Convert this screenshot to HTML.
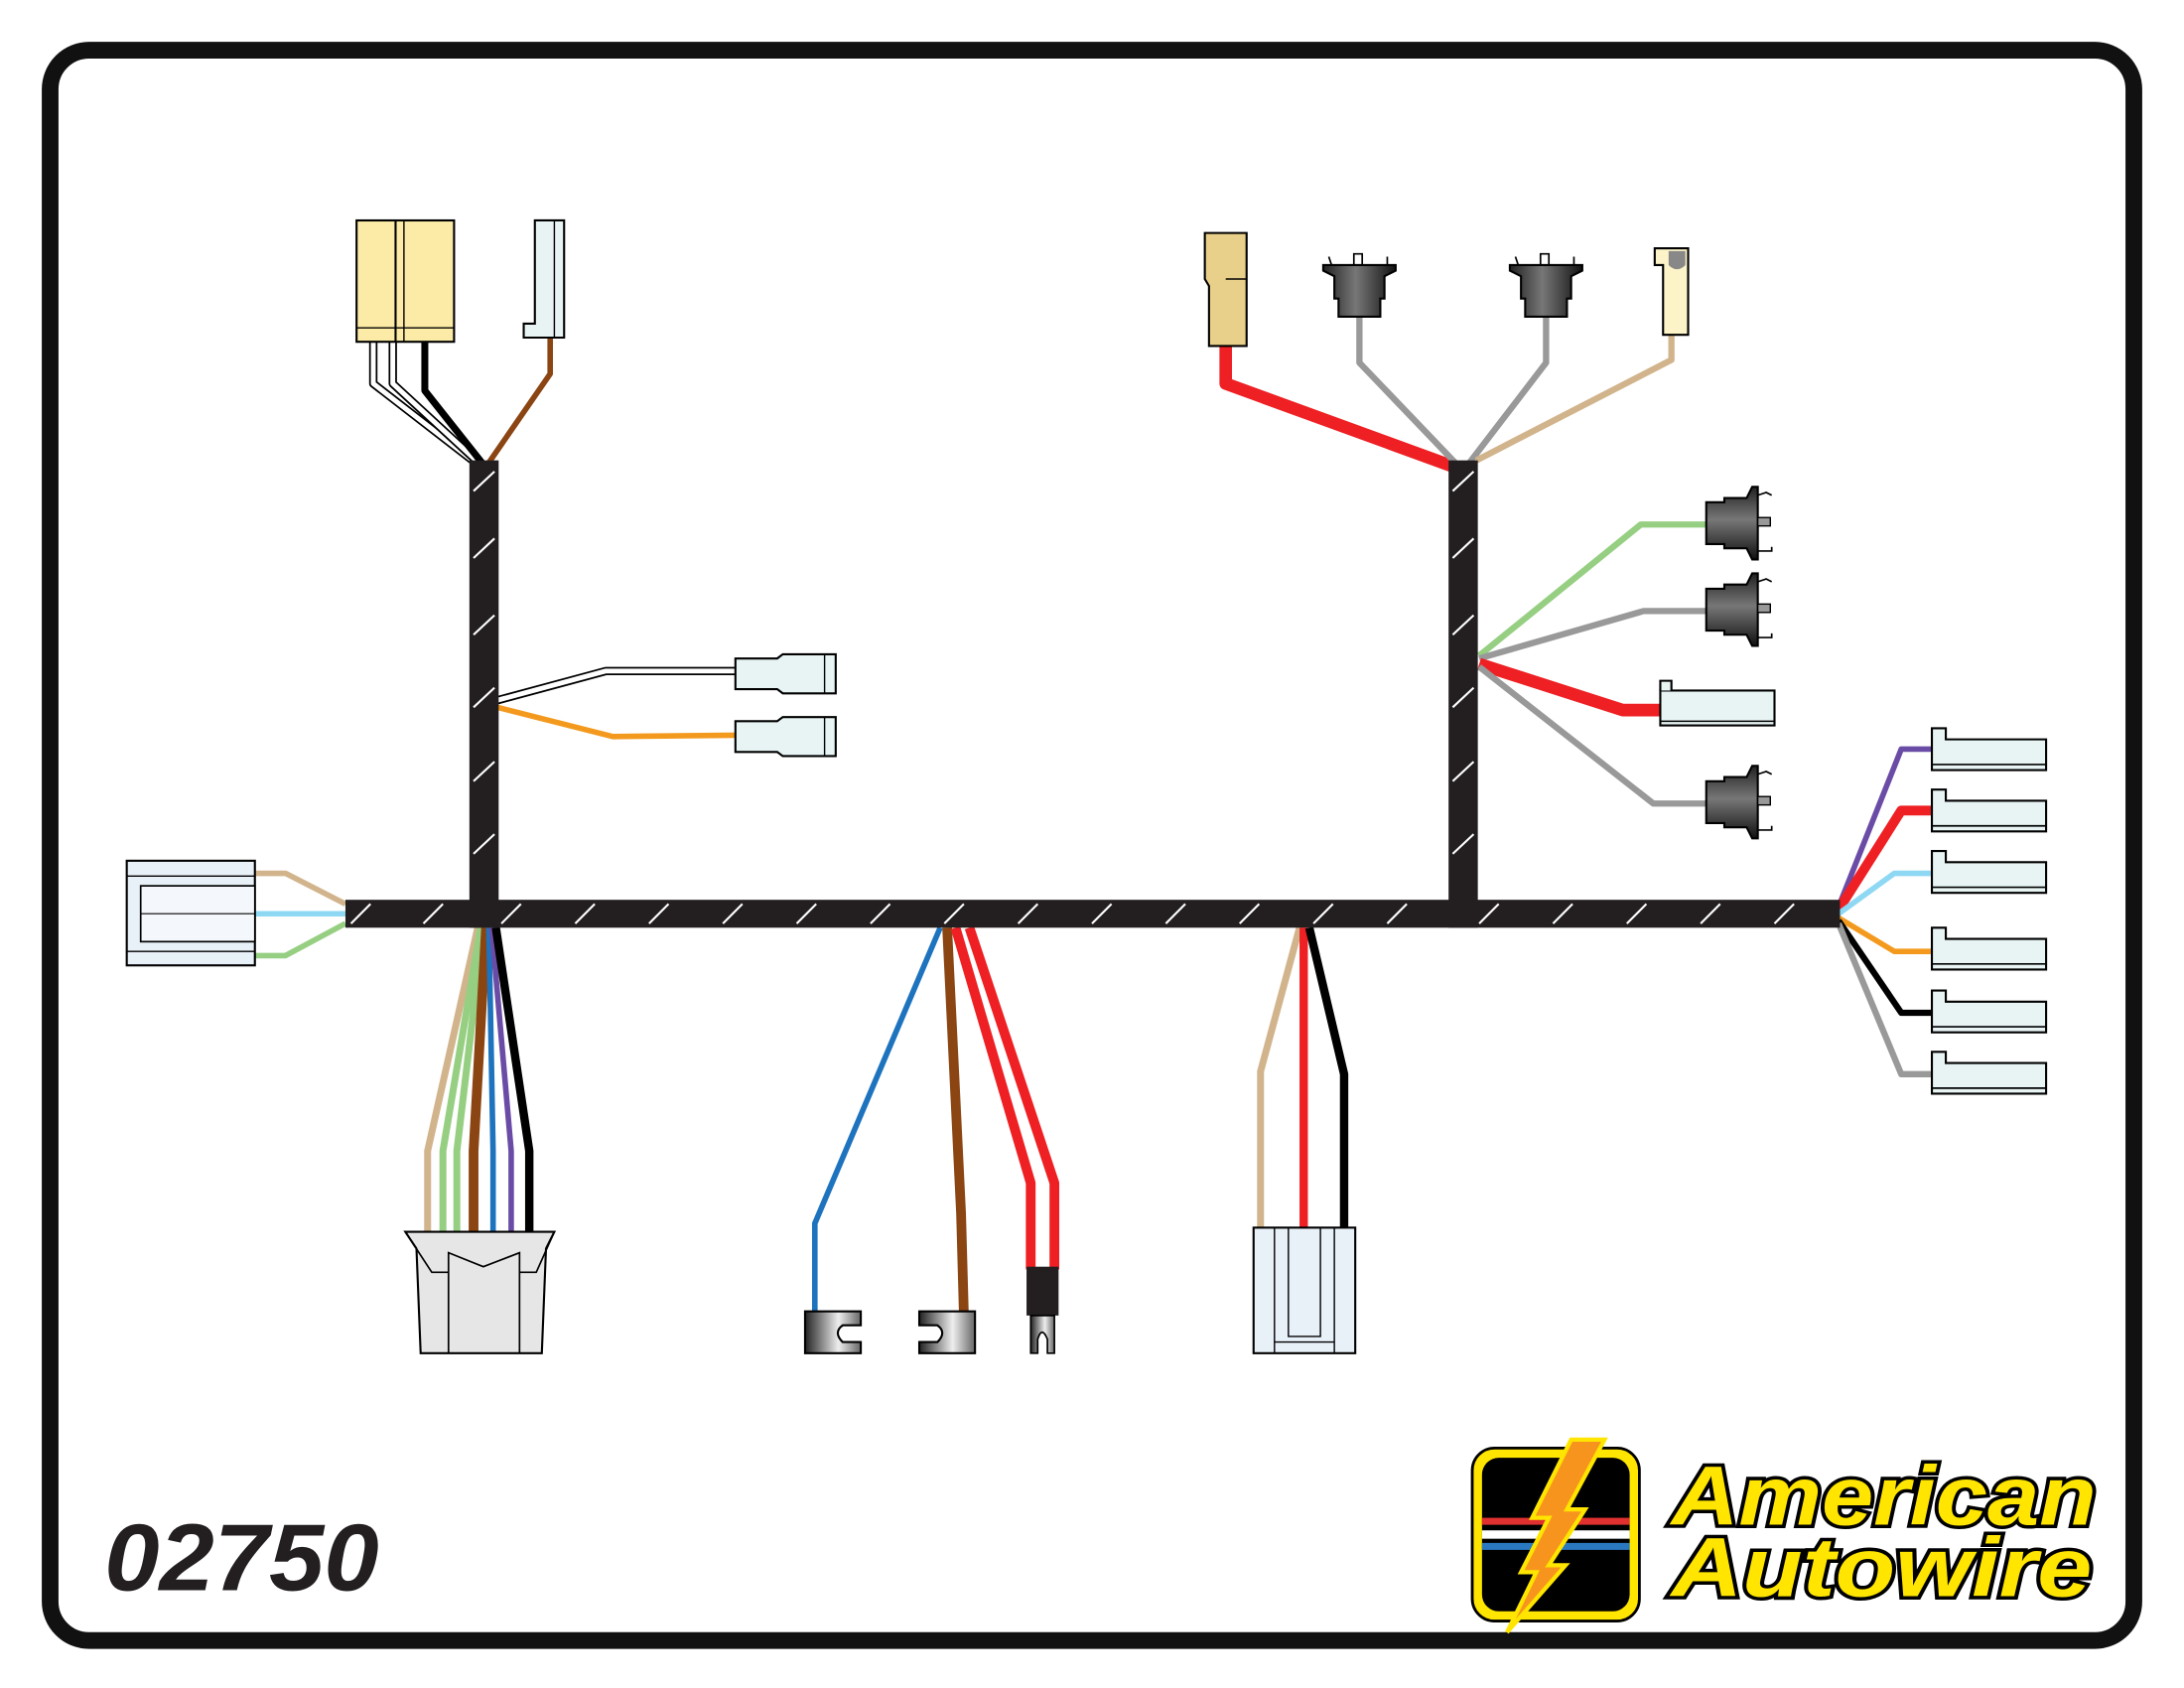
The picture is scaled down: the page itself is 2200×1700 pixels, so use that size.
<!DOCTYPE html>
<html><head><meta charset="utf-8"><style>
html,body{margin:0;padding:0;background:#fff;}
svg{display:block;}
</style></head><body>
<svg width="2200" height="1700" viewBox="0 0 1568 1210" preserveAspectRatio="none" xmlns="http://www.w3.org/2000/svg">
<defs>
<linearGradient id="sock" x1="0" y1="0" x2="0" y2="1"><stop offset="0" stop-color="#222"/><stop offset="0.45" stop-color="#777"/><stop offset="1" stop-color="#111"/></linearGradient>
<linearGradient id="sockv" x1="0" y1="0" x2="1" y2="0"><stop offset="0" stop-color="#222"/><stop offset="0.45" stop-color="#777"/><stop offset="1" stop-color="#111"/></linearGradient>
<linearGradient id="clip" x1="0" y1="0" x2="1" y2="0"><stop offset="0" stop-color="#222"/><stop offset="0.6" stop-color="#eee"/><stop offset="1" stop-color="#666"/></linearGradient>
<g id="hsock">
<path d="M-25,-15 L-12,-15 L-12,-18 L4,-18 L8,-26 L12,-26 L12,26 L8,26 L4,18 L-12,18 L-12,15 L-25,15 Z" fill="url(#sock)" stroke="#000" stroke-width="1.5"/>
<rect x="12" y="-4" width="9" height="6" fill="#999" stroke="#000" stroke-width="1"/>
<path d="M12,-20 L18,-22 L22,-20 M12,20 L22,20 L22,17" fill="none" stroke="#000" stroke-width="1.2"/>
</g>
<g id="vsock">
<path d="M-15,25 L-15,12 L-18,12 L-18,-4 L-26,-8 L-26,-12 L26,-12 L26,-8 L18,-4 L18,12 L15,12 L15,25 Z" fill="url(#sockv)" stroke="#000" stroke-width="1.5"/>
<path d="M-4,-12 L-4,-20 L2,-20 L2,-12 M-20,-12 L-22,-18 M20,-12 L20,-18" fill="none" stroke="#000" stroke-width="1.2"/>
</g>
<g id="term">
<path d="M0,0 L10,0 L10,8 L82,8 L82,30 L0,30 Z" fill="#e8f4f4" stroke="#000" stroke-width="1.5"/>
<line x1="0" y1="26" x2="82" y2="26" stroke="#000" stroke-width="1.2"/>
</g>
</defs>

<rect x="36" y="36" width="1496" height="1140" rx="28" ry="28" fill="#fff" stroke="#111" stroke-width="12"/>

<g fill="none" stroke-linejoin="round">
<path d="M268,245 L268,275 L343,333" stroke="#000" stroke-width="6"/>
<path d="M268,245 L268,275 L343,333" stroke="#fff" stroke-width="3.5"/>
<path d="M282,245 L282,275 L345,333" stroke="#000" stroke-width="6"/>
<path d="M282,245 L282,275 L345,333" stroke="#fff" stroke-width="3.5"/>
<path d="M305,245 L305,280 L347,333" stroke="#000" stroke-width="5"/>
<path d="M395,242 L395,268 L350,333" stroke="#8B4513" stroke-width="4"/>
<path d="M357,502 L435,481 L528,481" stroke="#000" stroke-width="6"/>
<path d="M357,502 L435,481 L528,481" stroke="#fff" stroke-width="3.5"/>
<path d="M357,507 L440,528 L528,527" stroke="#F39A1E" stroke-width="4"/>
<path d="M183,626 L205,626 L248,648" stroke="#D2B48C" stroke-width="4"/>
<path d="M183,655 L248,655" stroke="#8FD8F3" stroke-width="4"/>
<path d="M183,685 L205,685 L248,662" stroke="#96CF82" stroke-width="4"/>
<path d="M343,665 L307,825 L307,885" stroke="#D2B48C" stroke-width="5"/>
<path d="M345,665 L318,825 L318,885" stroke="#96CF82" stroke-width="5"/>
<path d="M347,665 L328,825 L328,885" stroke="#96CF82" stroke-width="5"/>
<path d="M349,665 L340,825 L340,885" stroke="#8B4513" stroke-width="7"/>
<path d="M351,665 L354,825 L354,885" stroke="#1E73BE" stroke-width="4"/>
<path d="M353,665 L367,825 L367,885" stroke="#6A4CA6" stroke-width="4"/>
<path d="M356,665 L380,825 L380,885" stroke="#000" stroke-width="6"/>
<path d="M675,665 L585,877 L585,942" stroke="#1E73BE" stroke-width="4"/>
<path d="M680,665 L690,870 L692,942" stroke="#8B4513" stroke-width="7"/>
<path d="M686,665 L740,848 L740,910" stroke="#EE2024" stroke-width="7"/>
<path d="M696,665 L757,848 L757,910" stroke="#EE2024" stroke-width="7"/>
<path d="M933,665 L905,768 L905,882" stroke="#D2B48C" stroke-width="5"/>
<path d="M936,665 L936,882" stroke="#EE2024" stroke-width="6"/>
<path d="M940,665 L965,770 L965,882" stroke="#000" stroke-width="6"/>
<path d="M880,248 L880,275 L1045,335" stroke="#EE2024" stroke-width="9"/>
<path d="M976,226 L976,260 L1046,333" stroke="#999" stroke-width="4.5"/>
<path d="M1110,226 L1110,260 L1054,333" stroke="#999" stroke-width="4.5"/>
<path d="M1200,240 L1200,258 L1060,330" stroke="#D2B48C" stroke-width="4.5"/>
<path d="M1062,470 L1178,376 L1225,376" stroke="#96CF82" stroke-width="4.5"/>
<path d="M1062,472 L1180,438 L1225,438" stroke="#999" stroke-width="4.5"/>
<path d="M1062,476 L1165,509 L1192,509" stroke="#EE2024" stroke-width="9"/>
<path d="M1062,478 L1187,576 L1225,576" stroke="#999" stroke-width="4.5"/>
<path d="M1320,650 L1365,537 L1387,537" stroke="#6A4CA6" stroke-width="4"/>
<path d="M1320,652 L1365,581 L1387,581" stroke="#EE2024" stroke-width="7"/>
<path d="M1320,655 L1360,626 L1387,626" stroke="#8FD8F3" stroke-width="4"/>
<path d="M1320,658 L1360,682 L1387,682" stroke="#F39A1E" stroke-width="4"/>
<path d="M1320,660 L1365,726 L1387,726" stroke="#000" stroke-width="4.5"/>
<path d="M1320,662 L1365,770 L1387,770" stroke="#999" stroke-width="4.5"/>
</g>

<rect x="337" y="330" width="21" height="335" fill="#231F20"/>
<rect x="1040" y="330" width="21" height="335" fill="#231F20"/>
<rect x="248" y="645" width="1073" height="20" fill="#231F20"/>
<g stroke="#fff" stroke-width="1.5">
<line x1="340" y1="352" x2="355" y2="338"/><line x1="340" y1="400" x2="355" y2="386"/><line x1="340" y1="455" x2="355" y2="441"/><line x1="340" y1="507" x2="355" y2="493"/><line x1="340" y1="560" x2="355" y2="546"/><line x1="340" y1="612" x2="355" y2="598"/>
<line x1="1043" y1="352" x2="1058" y2="338"/><line x1="1043" y1="400" x2="1058" y2="386"/><line x1="1043" y1="455" x2="1058" y2="441"/><line x1="1043" y1="507" x2="1058" y2="493"/><line x1="1043" y1="560" x2="1058" y2="546"/><line x1="1043" y1="612" x2="1058" y2="598"/>
</g>
<g stroke="#fff" stroke-width="1.5">
<line x1="252" y1="662" x2="266" y2="648"/><line x1="304" y1="662" x2="318" y2="648"/><line x1="360" y1="662" x2="374" y2="648"/><line x1="413" y1="662" x2="427" y2="648"/><line x1="466" y1="662" x2="480" y2="648"/><line x1="519" y1="662" x2="533" y2="648"/><line x1="572" y1="662" x2="586" y2="648"/><line x1="625" y1="662" x2="639" y2="648"/><line x1="678" y1="662" x2="692" y2="648"/><line x1="731" y1="662" x2="745" y2="648"/><line x1="784" y1="662" x2="798" y2="648"/><line x1="837" y1="662" x2="851" y2="648"/><line x1="890" y1="662" x2="904" y2="648"/><line x1="943" y1="662" x2="957" y2="648"/><line x1="996" y1="662" x2="1010" y2="648"/><line x1="1062" y1="662" x2="1076" y2="648"/><line x1="1115" y1="662" x2="1129" y2="648"/><line x1="1168" y1="662" x2="1182" y2="648"/><line x1="1221" y1="662" x2="1235" y2="648"/><line x1="1274" y1="662" x2="1288" y2="648"/>
</g>

<rect x="256" y="158" width="70" height="87" fill="#FCEBA6" stroke="#000" stroke-width="1.5"/>
<line x1="284" y1="158" x2="284" y2="245" stroke="#000" stroke-width="1.5"/>
<line x1="290" y1="158" x2="290" y2="245" stroke="#000" stroke-width="1"/>
<line x1="256" y1="235" x2="326" y2="235" stroke="#000" stroke-width="1"/>
<path d="M384,158 L405,158 L405,242 L376,242 L376,232 L384,232 Z" fill="#e8f4f4" stroke="#000" stroke-width="1.5"/>
<line x1="398" y1="158" x2="398" y2="242" stroke="#000" stroke-width="1"/>
<g fill="#e8f4f4" stroke="#000" stroke-width="1.5">
<path d="M528,472 L558,472 L562,469 L600,469 L600,497 L562,497 L558,494 L528,494 Z"/>
<path d="M528,517 L558,517 L562,514 L600,514 L600,542 L562,542 L558,539 L528,539 Z"/>
</g>
<line x1="592" y1="469" x2="592" y2="497" stroke="#000"/><line x1="592" y1="514" x2="592" y2="542" stroke="#000"/>
<rect x="91" y="617" width="92" height="75" fill="#e8f0f8" stroke="#000" stroke-width="1.5"/>
<rect x="101" y="635" width="82" height="40" fill="#f4f8fc" stroke="#000" stroke-width="1.2"/>
<line x1="91" y1="628" x2="183" y2="628" stroke="#000"/><line x1="91" y1="682" x2="183" y2="682" stroke="#000"/><line x1="101" y1="655" x2="183" y2="655" stroke="#000" stroke-width="0.8"/>
<path d="M291,883 L398,883 L392,895 L389,970 L302,970 L299,895 Z" fill="#E6E6E7" stroke="#000" stroke-width="1.5"/>
<path d="M291,883 L310,912 L322,912 L322,970 M398,883 L385,912 L373,912 L373,970 M322,912 L322,898 L347,908 L373,898 L373,912" fill="none" stroke="#000" stroke-width="1.2"/>
<path d="M578,940 L618,940 L618,950 L605,950 Q598,955 605,962 L618,962 L618,970 L578,970 Z" fill="url(#clip)" stroke="#000" stroke-width="1.5"/>
<path d="M660,940 L700,940 L700,970 L660,970 L660,962 L673,962 Q680,955 673,950 L660,950 Z" fill="url(#clip)" stroke="#000" stroke-width="1.5"/>
<rect x="737" y="908" width="23" height="35" fill="#231F20"/>
<path d="M740,943 L757,943 L757,970 L752,970 L752,960 Q748,950 745,960 L745,970 L740,970 Z" fill="url(#clip)" stroke="#000" stroke-width="1.2"/>
<rect x="900" y="880" width="73" height="90" fill="#e8f0f8" stroke="#000" stroke-width="1.5"/>
<line x1="915" y1="880" x2="915" y2="970" stroke="#000"/><line x1="958" y1="880" x2="958" y2="970" stroke="#000"/>
<path d="M925,880 L925,958 L948,958 L948,880" fill="none" stroke="#000"/>
<line x1="915" y1="962" x2="958" y2="962" stroke="#000"/>
<path d="M865,167 L895,167 L895,248 L868,248 L868,205 L865,200 Z" fill="#E8CF8A" stroke="#000" stroke-width="1.5"/>
<line x1="880" y1="200" x2="895" y2="200" stroke="#000"/>
<use href="#vsock" x="976" y="202"/>
<use href="#vsock" x="1110" y="202"/>
<path d="M1188,178 L1212,178 L1212,240 L1194,240 L1194,190 L1188,190 Z" fill="#FCF3C8" stroke="#000" stroke-width="1.5"/>
<path d="M1198,180 L1210,180 L1210,190 Q1204,196 1198,190 Z" fill="#888"/>
<use href="#hsock" x="1250" y="375"/>
<use href="#hsock" x="1250" y="437"/>
<use href="#hsock" x="1250" y="575"/>
<rect x="1192" y="495" width="82" height="25" fill="#e8f4f4" stroke="#000" stroke-width="1.5"/>
<path d="M1192,495 L1192,488 L1200,488 L1200,495" fill="#e8f4f4" stroke="#000" stroke-width="1.5"/>
<line x1="1192" y1="517" x2="1274" y2="517" stroke="#000"/>
<use href="#term" x="1387" y="522"/>
<use href="#term" x="1387" y="566"/>
<use href="#term" x="1387" y="610"/>
<use href="#term" x="1387" y="665"/>
<use href="#term" x="1387" y="710"/>
<use href="#term" x="1387" y="754"/>

<text x="75" y="1140" font-family="Liberation Sans, sans-serif" font-weight="bold" font-style="italic" font-size="68" fill="#231F20" textLength="197" lengthAdjust="spacingAndGlyphs">02750</text>

<rect x="1057" y="1038" width="120" height="124" rx="16" fill="#FFE500" stroke="#000" stroke-width="2"/>
<rect x="1064" y="1045" width="106" height="110" rx="12" fill="#000"/>
<rect x="1064" y="1088" width="106" height="5" fill="#E03030"/>
<rect x="1064" y="1097" width="106" height="6" fill="#fff"/>
<rect x="1064" y="1106" width="106" height="5" fill="#2A78C0"/>
<path d="M1128,1032 L1152,1032 L1125,1082 L1138,1082 L1112,1122 L1124,1122 L1082,1170 L1103,1127 L1092,1127 L1112,1088 L1100,1088 Z" fill="#F7941D" stroke="#FFE500" stroke-width="3"/>
<g font-family="Liberation Sans, sans-serif" font-weight="bold" font-style="italic" font-size="60" fill="#FFE500" stroke="#000" stroke-width="5" paint-order="stroke" lengthAdjust="spacingAndGlyphs">
<text x="1200" y="1093" textLength="305" lengthAdjust="spacingAndGlyphs">American</text>
<text x="1200" y="1144" textLength="302" lengthAdjust="spacingAndGlyphs">Autowire</text>
</g>
</svg>
</body></html>
